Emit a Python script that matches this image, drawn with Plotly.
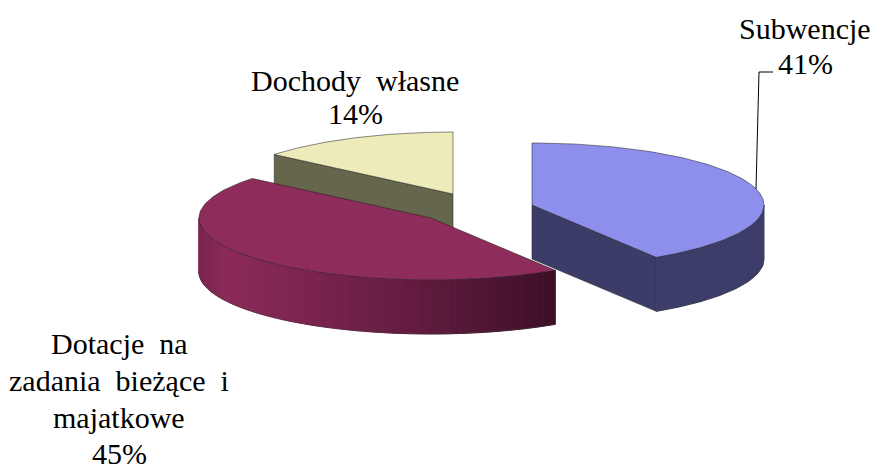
import numpy as np
import plotly.graph_objects as go

# --- data ---
categories = ["Subwencje", "Dotacje na zadania bieżące i majatkowe", "Dochody własne"]
values = [41, 45, 14]
label_lines = [["Subwencje", "41%"],
               ["Dotacje\u00a0 na", "zadania\u00a0 bieżące\u00a0 i", "majatkowe", "45%"],
               ["Dochody\u00a0 własne", "14%"]]

# --- styling / projection of the exploded 3-D pie (pixel space) ---
centers = [(532, 205), (431, 218), (453, 194)]
RX, RY, DEPTH = 232, 62, 54
top_colors = ["#8e8eec", "#8e2c5c", "#ecebb9"]
wall_colors = ["#3c3c68", "#8a2a59", "#66664c"]
EDGE = "rgba(30,30,30,0.65)"
label_pos = [(805, [28, 63]), (119, [343, 380, 417, 453]), (355, [80, 113])]
FONT = dict(family="Liberation Serif", size=30, color="#000000")

fractions = np.array(values) / sum(values)
ends = np.cumsum(fractions) * 2 * np.pi
starts = ends - fractions * 2 * np.pi


def px(c, a):
    return c[0] + RX * np.sin(a), c[1] - RY * np.cos(a)


fig = go.Figure()


def poly(xs, ys, fill, line=EDGE, width=0.8):
    fig.add_trace(go.Scatter(x=list(xs), y=list(ys), mode="lines", fill="toself",
                             fillcolor=fill, line=dict(color=line, width=width),
                             hoverinfo="skip", showlegend=False))


def mix(c1, c2, t):
    return "rgb(%d,%d,%d)" % tuple(c1[i] + (c2[i] - c1[i]) * t for i in range(3))


def radial_wall(c, a, color):
    x, y = px(c, a)
    poly([c[0], x, x, c[0], c[0]], [c[1], y, y + DEPTH, c[1] + DEPTH, c[1]], color)


def rim(c, a0, a1, shade, n):
    edges = np.linspace(a0, a1, n + 1)
    for i in range(n):
        aa = np.linspace(edges[i], edges[i + 1], 5)
        xs, ys = px(c, aa)
        col = shade(px(c, (edges[i] + edges[i + 1]) / 2)[0])
        poly(np.r_[xs, xs[::-1], xs[0]], np.r_[ys, ys[::-1] + DEPTH, ys[0]], col, line=col, width=1)
    aa = np.linspace(a0, a1, 80)
    xs, ys = px(c, aa)
    fig.add_trace(go.Scatter(x=xs.tolist(), y=(ys + DEPTH).tolist(),
                             mode="lines", line=dict(color="rgba(60,60,60,0.45)", width=0.8),
                             hoverinfo="skip", showlegend=False))


def top(c, a0, a1, color):
    aa = np.linspace(a0, a1, 120)
    xs, ys = px(c, aa)
    poly(np.r_[c[0], xs, c[0]], np.r_[c[1], ys, c[1]], color)


# Dochody własne (back)
radial_wall(centers[2], starts[2], wall_colors[2])
top(centers[2], starts[2], ends[2], top_colors[2])

# Subwencje
radial_wall(centers[0], ends[0], wall_colors[0])
rim(centers[0], np.pi / 2, ends[0], lambda x: mix((58, 58, 100), (64, 64, 110), 0.5), 8)
top(centers[0], starts[0], ends[0], top_colors[0])


# Dotacje (front)
def dot_shade(x):
    t = (x - 200) / 355
    if t < 0.08:
        return mix((125, 38, 82), (140, 43, 90), t / 0.08)
    return mix((138, 42, 89), (62, 16, 40), ((t - 0.08) / 0.92) ** 1.15)


rim(centers[1], starts[1], np.pi * 1.5, dot_shade, 70)
top(centers[1], starts[1], ends[1], top_colors[1])

# Leader line for the Subwencje label
fig.add_trace(go.Scatter(x=[756, 759, 773], y=[189, 72, 72], mode="lines",
                         line=dict(color="#000000", width=1),
                         hoverinfo="skip", showlegend=False))

# Labels
for lines, (lx, lys) in zip(label_lines, label_pos):
    for text, ly in zip(lines, lys):
        fig.add_annotation(x=lx, y=ly, text=text, showarrow=False, font=FONT,
                           xanchor="center", yanchor="middle")

fig.update_layout(
    width=875, height=466, margin=dict(l=0, r=0, t=0, b=0), autosize=False,
    paper_bgcolor="#ffffff", plot_bgcolor="#ffffff", showlegend=False,
    xaxis=dict(range=[0, 875], visible=False, fixedrange=True),
    yaxis=dict(range=[466, 0], visible=False, fixedrange=True),
)
fig.write_html("out.html", config=dict(displayModeBar=False),
               post_script="document.body.style.margin='0';document.body.style.overflow='hidden';")
